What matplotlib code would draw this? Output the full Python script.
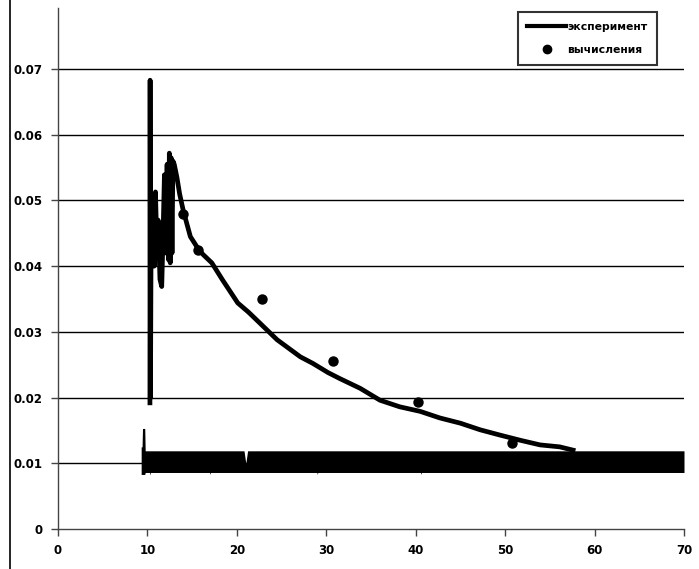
import matplotlib
matplotlib.use("Agg")
import matplotlib.pyplot as plt
from matplotlib.lines import Line2D

# --- experiment curve (main trace) ---
exp_x = [10.28, 10.30, 10.34, 10.42, 10.52, 10.62, 10.75, 10.90, 11.05, 11.20, 11.40,
         11.60, 11.75, 11.90, 12.05, 12.20, 12.35, 12.45, 12.55, 12.65, 12.75, 12.85,
         13.00, 13.30, 13.60, 14.00, 14.30, 14.80, 15.60, 16.20, 17.20, 18.40, 20.10,
         21.30, 22.60, 24.50, 27.10, 28.50, 30.20, 31.50, 33.80, 36.00, 38.20, 40.50,
         42.70, 45.00, 47.20, 49.40, 51.70, 53.90, 56.10, 57.60]
exp_y = [0.0192, 0.0683, 0.0200, 0.0480, 0.0420, 0.0505, 0.0400, 0.0513, 0.0430, 0.0470, 0.0380,
         0.0369, 0.0450, 0.0539, 0.0420, 0.0555, 0.0410, 0.0572, 0.0405, 0.0565, 0.0420, 0.0560,
         0.0555, 0.0535, 0.0510, 0.0485, 0.0470, 0.0445, 0.0428, 0.0418, 0.0405, 0.0379, 0.0344,
         0.0330, 0.0313, 0.0288, 0.0262, 0.0252, 0.0238, 0.0229, 0.0214, 0.0196, 0.0186, 0.0179,
         0.0169, 0.0161, 0.0151, 0.0143, 0.0135, 0.0128, 0.0125, 0.0120]

# --- experiment noise band (envelope of dense trace) ---
band_x  = [9.30, 9.40, 9.45, 9.70, 9.75, 10.25, 10.30, 10.35, 16.95, 17.00, 17.05,
           20.80, 21.00, 21.20, 28.95, 29.00, 29.05, 40.55, 40.60, 40.65, 70.0]
band_lo = [0.0083, 0.0083, 0.0083, 0.0083, 0.0086, 0.0086, 0.0082, 0.0086, 0.0086, 0.0083, 0.0086,
           0.0086, 0.0086, 0.0086, 0.0086, 0.0083, 0.0086, 0.0086, 0.0083, 0.0086, 0.0086]
band_hi = [0.0125, 0.0125, 0.0153, 0.0153, 0.0119, 0.0119, 0.0119, 0.0119, 0.0119, 0.0119, 0.0119,
           0.0119, 0.0100, 0.0119, 0.0119, 0.0119, 0.0119, 0.0119, 0.0119, 0.0119, 0.0119]

# --- calculations ---
calc_x = [14.0, 15.7, 22.8, 30.8, 40.3, 50.8]
calc_y = [0.0480, 0.0424, 0.0350, 0.0255, 0.0193, 0.0131]

yticks = [0, 0.01, 0.02, 0.03, 0.04, 0.05, 0.06, 0.07]
ytick_labels = ["0", "0.01", "0.02", "0.03", "0.04", "0.05", "0.06", "0.07"]
xticks = [0, 10, 20, 30, 40, 50, 60, 70]
labels = ["эксперимент", "вычисления"]

W, H = 699, 569
fig = plt.figure(figsize=(W / 100, H / 100), dpi=100)
left, right, bottom, top = 58, 684, 529, 8
ax = fig.add_axes([left / W, 1 - bottom / H, (right - left) / W, (bottom - top) / H])

ax.set_xlim(0, 70)
ax.set_ylim(0, (bottom - top) / 6571)

for yv in yticks[1:]:
    ax.axhline(yv, color="black", lw=1.0, zorder=1)

ax.fill_between(band_x, band_lo, band_hi, color="black", lw=0, zorder=2)
ax.plot(exp_x, exp_y, color="black", lw=3.4, solid_joinstyle="round", zorder=3)
ax.plot(calc_x, calc_y, "o", color="black", ms=6.5, zorder=4)

for s in ["top", "right"]:
    ax.spines[s].set_visible(False)
for s in ["left", "bottom"]:
    ax.spines[s].set_color("#444444")
    ax.spines[s].set_linewidth(1.0)

ax.set_yticks(yticks)
ax.set_yticklabels(ytick_labels)
ax.set_xticks(xticks)
ax.set_xticklabels([str(v) for v in xticks])
ax.tick_params(axis="both", length=5, width=1, color="#444444", labelsize=8.5, pad=6)
for t in ax.get_xticklabels() + ax.get_yticklabels():
    t.set_fontweight("bold")

handles = [Line2D([], [], color="black", lw=3),
           Line2D([], [], marker="o", ls="none", color="black", ms=6)]
leg = fig.legend(handles, labels, loc="upper right",
                 bbox_to_anchor=(657 / W, 1 - 12 / H),
                 frameon=True, fancybox=False, edgecolor="black",
                 prop={"size": 7.8, "weight": "bold"}, handlelength=3.6,
                 borderpad=0.9, labelspacing=1.25, handletextpad=0.05,
                 borderaxespad=0)
leg.get_frame().set_linewidth(1.5)

# left frame line of the image
fig.add_artist(Line2D([10 / W, 10 / W], [0, 1], color="black", lw=1.2))

fig.savefig("out.png", dpi=100)
